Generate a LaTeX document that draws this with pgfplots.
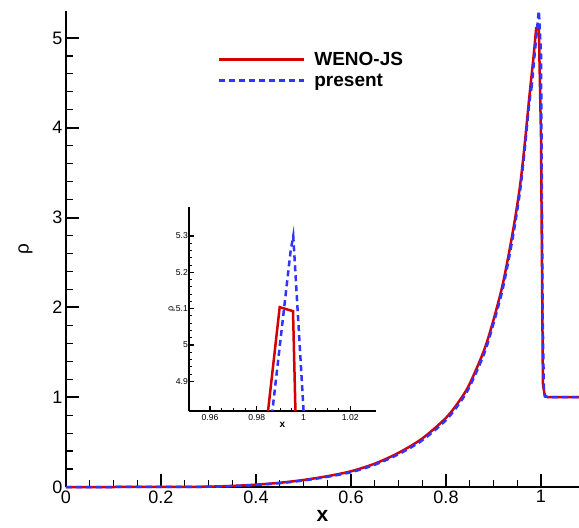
\documentclass[border=0pt]{standalone}
\usepackage{fontspec}
\setmainfont{Liberation Sans}
\usepackage{pgfplots}
\pgfplotsset{compat=1.18}
\definecolor{myred}{RGB}{210,0,0}
\definecolor{myblue}{RGB}{51,51,255}
\begin{document}
\begin{tikzpicture}
\path[use as bounding box] (-66pt,-41pt) rectangle (513pt,487pt);
\begin{axis}[
  at={(0pt,0pt)}, anchor=south west,
  scale only axis, width=513pt, height=476pt,
  xmin=0, xmax=1.08, ymin=0, ymax=5.3,
  clip=false,
  axis x line*=bottom, axis y line*=left,
  axis line style={line width=2.4pt,-},
  tick align=inside,
  xtick={0,0.2,0.4,0.6,0.8,1}, minor x tick num=3,
  ytick={0,1,2,3,4,5}, minor y tick num=4,
  major tick length=13pt, minor tick length=7pt,
  major tick style={line width=2pt,black},
  minor tick style={line width=1.2pt,black},
  /pgf/number format/assume math mode=true,
  tick label style={font=\fontsize{18}{18}\selectfont},
  xlabel={\textbf{x}},
  xlabel style={font=\fontsize{21}{21}\selectfont, yshift=0pt},
  ylabel={ρ},
  ylabel style={font=\fontsize{19}{19}\selectfont, yshift=13pt},
  legend style={at={(axis cs:0.313,4.89)}, anchor=north west, draw=none, fill=none,
    font=\bfseries\fontsize{19}{21}\selectfont, row sep=3pt,
    /tikz/every odd column/.append style={column sep=7pt}},
  legend image code/.code={\draw[#1] (0pt,0pt) -- (85pt,0pt);},
  legend cell align=left,
]
\addplot[myred, line width=2.5pt, smooth, forget plot] coordinates {
(0,0) (0.1,0) (0.2,0.0005) (0.25,0.001) (0.3,0.004) (0.35,0.012) (0.4,0.026)
(0.45,0.047) (0.5,0.078) (0.55,0.12) (0.6,0.175) (0.65,0.26) (0.7,0.38)
(0.75,0.54) (0.8,0.77) (0.83,0.973) (0.85,1.15) (0.88,1.52) (0.9,1.86)
(0.92,2.27) (0.94,2.82) (0.955,3.32) (0.965,3.78) (0.975,4.32) (0.9845,4.80)
};
\addplot[myred, line width=2.5pt] coordinates {
(0.9845,4.80) (0.9898,5.104) (0.9955,5.093) (1.0,3.9) (1.004,1.15) (1.008,1.01) (1.015,1.0) (1.08,1.0)
};
\addlegendentry{WENO-JS}
\addplot[myblue, line width=2.5pt, dash pattern=on 6pt off 4pt, smooth, forget plot] coordinates {
(0,0) (0.1,0) (0.2,0.0005) (0.25,0.001) (0.3,0.003) (0.35,0.010) (0.4,0.023)
(0.45,0.043) (0.5,0.073) (0.55,0.113) (0.6,0.165) (0.65,0.248) (0.7,0.365)
(0.75,0.52) (0.8,0.745) (0.83,0.945) (0.85,1.12) (0.88,1.48) (0.9,1.82)
(0.92,2.22) (0.94,2.76) (0.955,3.26) (0.965,3.72) (0.975,4.26) (0.98,4.44)
};
\addplot[myblue, line width=2.5pt, dash pattern=on 6pt off 4pt] coordinates {
(0.98,4.44) (0.9867,4.82) (0.9945,5.26) (0.9956,5.30) (1.0,4.82) (1.0035,1.9) (1.006,1.1)
(1.009,1.01) (1.015,1.0) (1.08,1.0)
};
\addlegendentry{present}
\end{axis}
\begin{axis}[
  at={(123pt,76pt)}, anchor=south west,
  scale only axis, width=187pt, height=204pt,
  xmin=0.951, xmax=1.031, ymin=4.818, ymax=5.38,
  axis x line*=bottom, axis y line*=left,
  axis line style={line width=2pt,-},
  tick align=inside,
  xtick={0.96,0.98,1,1.02}, minor x tick num=3,
  ytick={4.9,5,5.1,5.2,5.3}, minor y tick num=4,
  major tick length=5pt, minor tick length=3pt,
  major tick style={line width=1.2pt,black},
  minor tick style={line width=0.8pt,black},
  /pgf/number format/assume math mode=true,
  tick label style={font=\fontsize{8.6}{9}\selectfont},
  yticklabel style={inner sep=1pt},
  xlabel={\textbf{x}},
  xlabel style={font=\fontsize{10}{10}\selectfont, yshift=5pt},
  ylabel={ρ},
  ylabel style={font=\fontsize{9}{9}\selectfont, yshift=-4pt},
]
\addplot[myred, line width=2.5pt] coordinates {
(0.965,3.78) (0.975,4.32) (0.9845,4.80)
(0.9898,5.104) (0.9955,5.093) (1.0,3.9) (1.004,1.15)
};
\addplot[myblue, line width=2.5pt, dash pattern=on 6pt off 4pt] coordinates {
(0.975,4.26) (0.98,4.44) (0.9867,4.82) (0.9945,5.26) (0.9956,5.30) (1.0,4.82) (1.0035,1.9)
};
\end{axis}
\end{tikzpicture}
\end{document}
